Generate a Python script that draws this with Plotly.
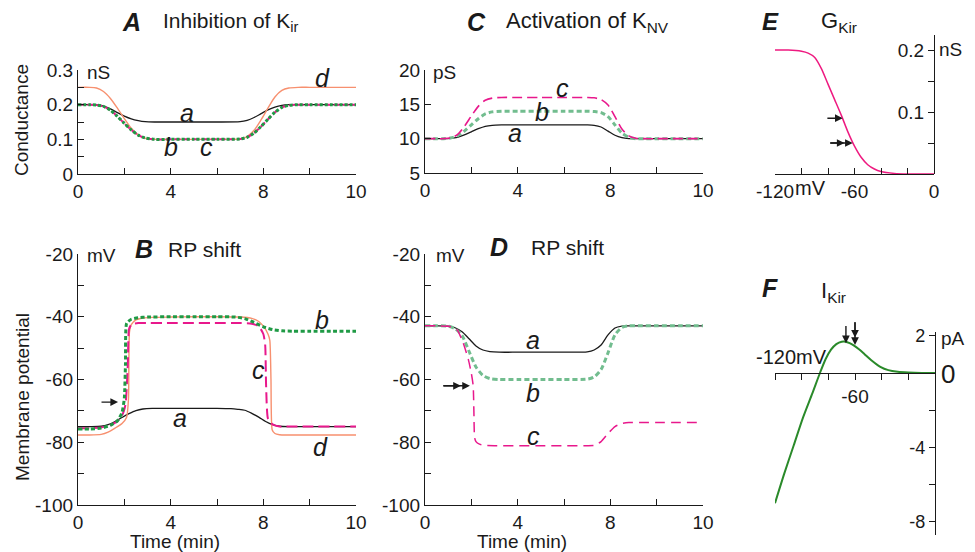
import plotly.graph_objects as go

# ---------------- data ----------------
# Panel A: Kir conductance (nS) vs time (axis units; last tick labelled "10")
t_A = [0, 0.5, 0.8, 1.1, 1.4, 1.7, 2.0, 2.3, 2.6, 2.9, 3.3, 4, 5, 6, 7.0, 7.3, 7.6, 7.9, 8.2, 8.5, 8.8, 9.1, 9.5, 10, 11, 12]
gA_a = [0.200, 0.200, 0.199, 0.196, 0.188, 0.177, 0.167, 0.159, 0.154, 0.151, 0.150, 0.150, 0.150, 0.150, 0.151, 0.155, 0.163, 0.174, 0.185, 0.193, 0.198, 0.200, 0.200, 0.200, 0.200, 0.200]
gA_bc = [0.200, 0.200, 0.199, 0.195, 0.184, 0.166, 0.146, 0.127, 0.112, 0.104, 0.100, 0.100, 0.100, 0.100, 0.101, 0.106, 0.118, 0.137, 0.158, 0.178, 0.192, 0.198, 0.200, 0.200, 0.200, 0.200]
gA_d = [0.250, 0.250, 0.248, 0.238, 0.218, 0.190, 0.160, 0.132, 0.113, 0.103, 0.100, 0.100, 0.100, 0.100, 0.101, 0.108, 0.126, 0.156, 0.190, 0.222, 0.241, 0.248, 0.250, 0.250, 0.250, 0.250]

# Panel C: KNV conductance (pS)
t_C = t_A
gC_a = [10, 10, 10, 10.05, 10.2, 10.55, 11.0, 11.45, 11.8, 11.95, 12, 12, 12, 12, 12, 11.95, 11.7, 11.1, 10.5, 10.15, 10.02, 10, 10, 10, 10, 10]
gC_b = [10, 10, 10, 10.1, 10.4, 11.1, 12.0, 12.9, 13.6, 13.9, 14, 14, 14, 14, 14, 13.95, 13.8, 13.2, 12.0, 10.8, 10.2, 10.0, 10, 10, 10, 10]
gC_c = [10, 10, 10, 10.1, 10.6, 11.8, 13.3, 14.7, 15.6, 15.9, 16, 16, 16, 16, 16, 15.95, 15.7, 14.9, 13.2, 11.4, 10.4, 10.05, 10, 10, 10, 10]

# Panel B: membrane potential (mV)
t_Ba = [0, 0.5, 1.0, 1.3, 1.6, 1.9, 2.2, 2.5, 2.8, 3.2, 4, 5, 6, 6.6, 6.9, 7.2, 7.5, 7.8, 8.1, 8.4, 8.7, 9.2, 10, 11, 12]
vB_a = [-75, -75, -74.9, -74.4, -73.4, -72.1, -70.9, -69.9, -69.4, -69.2, -69.2, -69.2, -69.2, -69.3, -69.5, -69.8, -70.8, -72.0, -73.4, -74.4, -74.9, -75, -75, -75, -75]
t_Bb = [0, 0.5, 1.0, 1.4, 1.7, 1.9, 2.0, 2.05, 2.1, 2.3, 2.6, 3, 4, 5, 6, 6.8, 7.2, 7.6, 8.0, 8.4, 8.8, 9.3, 10, 11, 12]
vB_b = [-75.8, -75.8, -75.5, -74.6, -73.2, -70.5, -66, -55, -42, -40.8, -40.3, -40.1, -40, -40, -40, -40.1, -40.6, -41.8, -43.2, -44.1, -44.5, -44.6, -44.6, -44.6, -44.6]
t_Bc = [0, 0.5, 1.0, 1.4, 1.7, 1.9, 2.05, 2.15, 2.2, 2.3, 2.6, 3, 4, 5, 6, 7, 7.5, 7.8, 8.0, 8.08, 8.12, 8.2, 8.4, 8.7, 9, 10, 11, 12]
vB_c = [-75.5, -75.5, -75.3, -74.5, -73.3, -71.5, -68, -55, -44, -42.5, -42, -42, -42, -42, -42, -42, -42.2, -43, -45.5, -49, -62, -72.5, -74.3, -75, -75, -75, -75, -75]
t_Bd = [0, 0.5, 1.0, 1.3, 1.6, 1.9, 2.1, 2.18, 2.22, 2.3, 2.5, 2.8, 3.2, 4, 5, 6, 7, 7.5, 7.8, 8.0, 8.2, 8.28, 8.33, 8.38, 8.5, 8.7, 9, 10, 11, 12]
vB_d = [-77.7, -77.7, -77.5, -76.8, -75.5, -74, -72, -66, -45, -42.5, -41, -40.4, -40.2, -40.1, -40, -40, -40.1, -40.5, -41.5, -43, -45.5, -47.5, -60, -76, -77.2, -77.6, -77.7, -77.7, -77.7, -77.7]

# Panel D: membrane potential (mV)
t_D = [0, 0.5, 1.0, 1.3, 1.6, 1.9, 2.2, 2.5, 2.8, 3.2, 4, 5, 6, 7.0, 7.3, 7.6, 7.9, 8.2, 8.5, 8.8, 9.2, 10, 11, 12]
vD_a = [-42.9, -42.9, -43.0, -43.5, -44.8, -47.0, -49.3, -50.6, -51.1, -51.3, -51.3, -51.3, -51.3, -51.2, -50.6, -49.0, -45.8, -43.6, -43.0, -42.9, -42.9, -42.9, -42.9, -42.9]
vD_b = [-42.9, -42.9, -43.0, -43.8, -46.0, -51.0, -56.0, -58.7, -59.7, -60, -60, -60, -60, -59.9, -59.2, -56.8, -51.5, -45.8, -43.4, -42.9, -42.9, -42.9, -42.9, -42.9]
t_Dc = [0, 0.5, 1.0, 1.2, 1.4, 1.65, 1.87, 2.0, 2.08, 2.11, 2.14, 2.2, 2.35, 2.6, 3, 4, 5, 6, 7.0, 7.3, 7.6, 7.9, 8.2, 8.5, 8.8, 9.5, 10, 11, 12]
vD_c = [-42.9, -42.9, -43.0, -43.3, -44.3, -48.4, -53.6, -58.0, -62.0, -70, -78.5, -79.8, -80.6, -81, -81.1, -81.1, -81.1, -81.1, -81.1, -81.0, -79.8, -77.2, -75.0, -74.0, -73.7, -73.7, -73.7, -73.7, -73.7]

# Panel E: GKir (nS) vs membrane potential (mV)
v_E = [-120, -110, -100, -95, -90, -85, -80, -75, -70, -65, -60, -55, -50, -45, -40, -30, -20, -10, 0]
g_E = [0.200, 0.200, 0.198, 0.195, 0.188, 0.170, 0.145, 0.120, 0.095, 0.068, 0.045, 0.027, 0.015, 0.008, 0.004, 0.001, 0.0, 0.0, 0.0]

# Panel F: IKir (pA) vs membrane potential (mV)
v_F = [-120, -113, -106, -99, -92, -86, -82, -78, -74, -70, -67, -64, -61, -57, -53, -48, -41, -35, -28, -20, -10, 0]
i_F = [-7.0, -5.4, -3.9, -2.4, -1.1, 0.05, 0.75, 1.25, 1.55, 1.68, 1.68, 1.6, 1.48, 1.27, 1.02, 0.70, 0.33, 0.15, 0.06, 0.02, 0.0, 0.0]

time_ticks = [0, 2, 4, 6, 8, 10, 12]
time_ticktext = ["0", "", "4", "", "8", "", "10"]

# ---------------- styling ----------------
OFF = 8                     # page body margin of the html page
W, H = 975 - OFF, 552 - OFF
FONT = "Liberation Sans, Arial, sans-serif"
BLACK = "#1a1a1a"
GREEN = "#1f9a45"
LGREEN = "#72bd8f"
MAGENTA = "#e8188c"
SALMON = "#f7906f"
PINK = "#ee1a80"
FGREEN = "#2a8a2a"
TICK = 19


def px(x):
    return (x - OFF) / W


def py(y):
    return 1 - (y - OFF) / H


fig = go.Figure()


def line(x, y, xa, ya, color, width, dash="solid", smooth=0.7):
    fig.add_trace(go.Scatter(x=x, y=y, xaxis=xa, yaxis=ya, mode="lines",
                             line=dict(color=color, width=width, dash=dash,
                                       shape="spline", smoothing=smooth),
                             hoverinfo="skip", showlegend=False))


# A
line(t_A, gA_a, "x", "y", BLACK, 1.3)
line(t_A, gA_d, "x", "y", SALMON, 1.4)
line(t_A, gA_bc, "x", "y", MAGENTA, 2.0, "6px,3px")
line(t_A, gA_bc, "x", "y", GREEN, 3.0, "3px,2px")
# B
line(t_Ba, vB_a, "x2", "y2", BLACK, 1.3)
line(t_Bd, vB_d, "x2", "y2", SALMON, 1.4, smooth=0.5)
line(t_Bc, vB_c, "x2", "y2", MAGENTA, 2.0, "11px,5px", smooth=0.5)
line(t_Bb, vB_b, "x2", "y2", GREEN, 3.0, "4px,2.5px", smooth=0.5)
# C
line(t_C, gC_a, "x3", "y3", BLACK, 1.3)
line(t_C, gC_b, "x3", "y3", LGREEN, 3.0, "5px,3px")
line(t_C, gC_c, "x3", "y3", MAGENTA, 1.6, "10px,5px")
# D
line(t_D, vD_a, "x4", "y4", BLACK, 1.3)
line(t_D, vD_b, "x4", "y4", LGREEN, 3.0, "5px,3px")
line(t_Dc, vD_c, "x4", "y4", MAGENTA, 1.5, "10px,6px", smooth=0.5)
# E
line(v_E, g_E, "x5", "y5", PINK, 1.5)
# F
line(v_F, i_F, "x6", "y6", FGREEN, 2.0)

axis_common = dict(showgrid=False, zeroline=False, showline=True, linecolor=BLACK,
                   linewidth=1.3, tickcolor=BLACK, tickwidth=1.3, ticklen=6,
                   automargin=False,
                   tickfont=dict(family=FONT, size=TICK, color=BLACK), fixedrange=True)


def ax(**kw):
    d = dict(axis_common)
    d.update(kw)
    return d


mv_ticks = [-100, -90, -80, -70, -60, -50, -40, -30, -20]
mv_text = ["-100", "", "-80", "", "-60", "", "-40", "", "-20"]

fig.update_layout(
    template="none",
    width=W, height=H, margin=dict(l=0, r=0, t=0, b=0, pad=0, autoexpand=False),
    paper_bgcolor="white", plot_bgcolor="rgba(0,0,0,0)", showlegend=False,
    font=dict(family=FONT, color=BLACK),
    # A
    xaxis=ax(domain=[px(78), px(356)], range=[0, 12], anchor="y", ticks="inside",
             tickvals=time_ticks, ticktext=time_ticktext),
    yaxis=ax(domain=[py(174), py(70)], range=[0, 0.3], anchor="x", ticks="inside",
             tickvals=[0, 0.05, 0.1, 0.15, 0.2, 0.25, 0.3],
             ticktext=["0", "", "0.1", "", "0.2", "", "0.3"]),
    # B
    xaxis2=ax(domain=[px(78), px(356)], range=[0, 12], anchor="y2", ticks="inside",
              tickvals=time_ticks, ticktext=time_ticktext),
    yaxis2=ax(domain=[py(505), py(254)], range=[-100, -20], anchor="x2", ticks="inside",
              tickvals=mv_ticks, ticktext=mv_text),
    # C
    xaxis3=ax(domain=[px(425), px(703)], range=[0, 12], anchor="y3", ticks="inside",
              tickvals=time_ticks, ticktext=time_ticktext),
    yaxis3=ax(domain=[py(173), py(70)], range=[5, 20], anchor="x3", ticks="inside",
              tickvals=[5, 10, 15, 20], ticktext=["5", "10", "15", "20"]),
    # D
    xaxis4=ax(domain=[px(425), px(703)], range=[0, 12], anchor="y4", ticks="inside",
              tickvals=time_ticks, ticktext=time_ticktext),
    yaxis4=ax(domain=[py(505), py(254)], range=[-100, -20], anchor="x4", ticks="inside",
              tickvals=mv_ticks, ticktext=mv_text),
    # E
    xaxis5=ax(domain=[px(775), px(934)], range=[-120, 0], anchor="y5", ticks="inside",
              tickvals=[-120, -100, -80, -60, -40, -20, 0],
              ticktext=["-120", "", "", "-60", "", "", "0"]),
    yaxis5=ax(domain=[py(174), py(35)], range=[0, 0.2242], anchor="free", position=px(934),
              side="left", ticks="outside",
              tickvals=[0.05, 0.1, 0.15, 0.2], ticktext=["", "0.1", "", "0.2"]),
    # F
    xaxis6=ax(domain=[px(775), px(935)], range=[-120, 0], anchor="free", position=py(373),
              ticks="outside", tickvals=[-120, -100, -80, -60, -40, -20],
              ticktext=["", "", "", "-60", "", ""]),
    yaxis6=ax(domain=[py(535), py(332)], range=[-8.71, 2.2], anchor="free", position=px(935),
              side="left", ticks="outside",
              tickvals=[-8, -6, -4, -2, 2], ticktext=["-8", "", "-4", "", "2"],
              tickfont=dict(family=FONT, size=18, color=BLACK)),
)

ann = []


def text(x, y, s, size=18, italic=False, bold=False, angle=0, xanchor="center"):
    if bold:
        s = "<b>" + s + "</b>"
    if italic:
        s = "<i>" + s + "</i>"
    ann.append(dict(x=px(x), y=py(y), xref="paper", yref="paper", text=s, showarrow=False,
                    font=dict(family=FONT, size=size, color=BLACK), textangle=angle,
                    xanchor=xanchor, yanchor="middle"))


# panel titles
text(131, 22, "A", 25, italic=True, bold=True)
text(231, 22, "Inhibition of K<sub>ir</sub>", 21)
text(476, 22, "C", 25, italic=True, bold=True)
text(587, 22, "Activation of K<sub>NV</sub>", 22)
text(770, 21, "E", 24, italic=True, bold=True)
text(839, 22, "G<sub>Kir</sub>", 22)
text(144, 249, "B", 25, italic=True, bold=True)
text(204, 249, "RP shift", 21)
text(499, 247, "D", 25, italic=True, bold=True)
text(567, 247, "RP shift", 21)
text(770, 288, "F", 25, italic=True, bold=True)
text(833, 292, "I<sub>Kir</sub>", 22)

# units
text(98, 72, "nS", 19)
text(444, 72, "pS", 19)
text(101, 255, "mV", 19)
text(450, 255, "mV", 19)
text(950, 50, "nS", 19)
text(953, 338, "pA", 19)
text(810, 188, "mV", 20)
text(791, 357, "-120mV", 20)
text(948, 374, "0", 26)

# axis titles
text(22, 120, "Conductance", 19, angle=-90)
text(22, 397, "Membrane potential", 19, angle=-90)
text(175, 541, "Time (min)", 19)
text(522, 541, "Time (min)", 19)

# curve labels
for (x, y, s) in [(187, 113, "a"), (171, 147, "b"), (206, 147, "c"), (322, 78, "d"),
                  (562, 88, "c"), (542, 112, "b"), (515, 133, "a"),
                  (180, 418, "a"), (322, 320, "b"), (258, 370, "c"), (320, 447, "d"),
                  (533, 340, "a"), (533, 393, "b"), (533, 436, "c")]:
    text(x, y, s, 25, italic=True)


def arrow(x, y, ax_, ay_, xr, yr):
    ann.append(dict(x=x, y=y, ax=ax_, ay=ay_, xref=xr, yref=yr, axref=xr, ayref=yr,
                    text="", showarrow=True, arrowhead=2, arrowsize=1.1, arrowwidth=1.4,
                    arrowcolor=BLACK))


# B single arrow
arrow(1.73, -67.2, 0.95, -67.2, "x2", "y2")
# D double arrow
arrow(1.94, -62.0, 0.73, -62.0, "x4", "y4")
arrow(1.55, -62.0, 0.73, -62.0, "x4", "y4")
# E arrows
arrow(-68.9, 0.090, -81.6, 0.090, "x5", "y5")
arrow(-61.3, 0.050, -79.4, 0.050, "x5", "y5")
arrow(-67.5, 0.050, -79.4, 0.050, "x5", "y5")
# F arrows
arrow(-66.8, 1.6, -66.8, 2.6, "x6", "y6")
arrow(-60.0, 1.5, -60.0, 2.8, "x6", "y6")
arrow(-60.0, 1.9, -60.0, 2.8, "x6", "y6")

fig.update_layout(annotations=ann)
fig.write_html("out.html")
